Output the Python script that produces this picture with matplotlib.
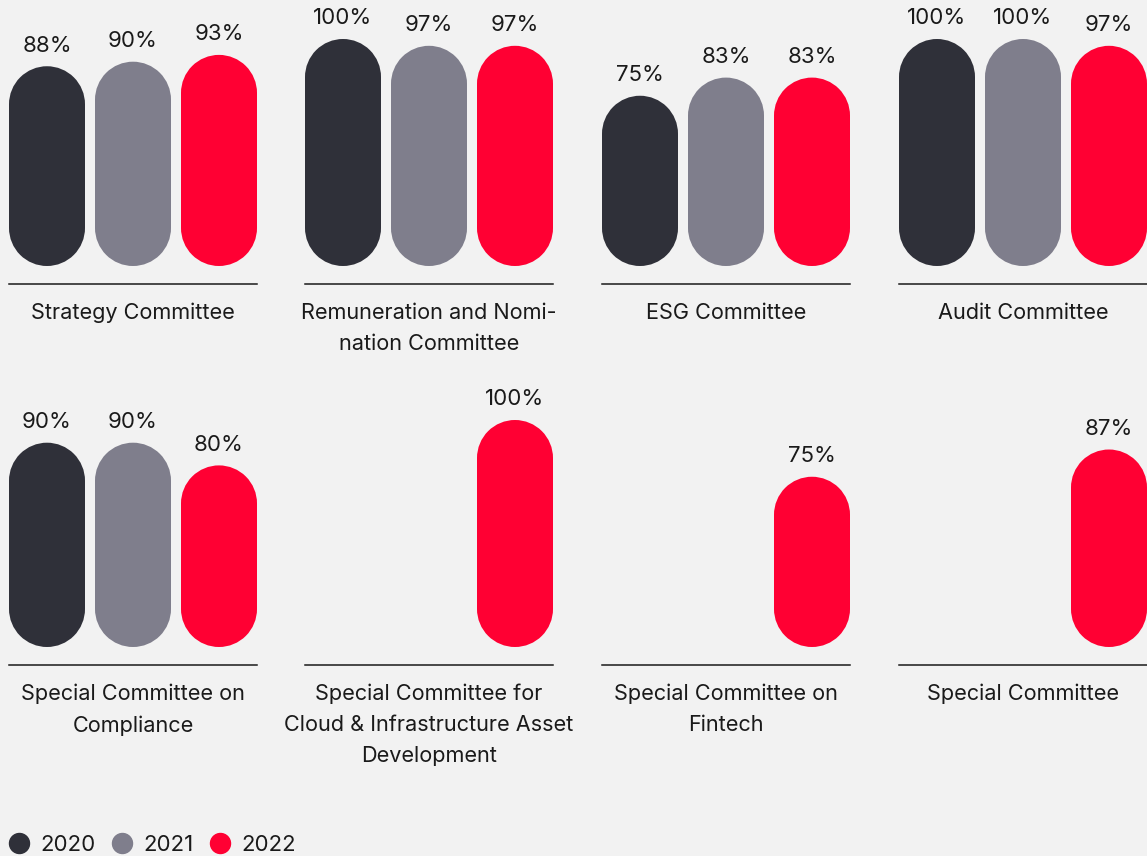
import numpy as np
import matplotlib
matplotlib.use("Agg")
import matplotlib.pyplot as plt
from matplotlib.path import Path
from matplotlib.patches import PathPatch
from matplotlib.lines import Line2D

plt.rcParams['font.family'] = ['Inter', 'DejaVu Sans']

committees = [
    "Strategy Committee",
    "Remuneration and Nomi-\nnation Committee",
    "ESG Committee",
    "Audit Committee",
    "Special Committee on\nCompliance",
    "Special Committee for\nCloud & Infrastructure Asset\nDevelopment",
    "Special Committee on\nFintech",
    "Special Committee",
]
years = ["2020", "2021", "2022"]
att_2020 = [88, 100, 75, 100, 90, np.nan, np.nan, np.nan]
att_2021 = [90, 97, 83, 100, 90, np.nan, np.nan, np.nan]
att_2022 = [93, 97, 83, 97, 80, 100, 75, 87]
colors = ["#2f3039", "#7f7e8c", "#ff0033"]

BG = "#f2f2f2"
INK = "#1a1a1a"
W, H = 1147, 856

fig = plt.figure(figsize=(W / 100, H / 100), dpi=100, facecolor=BG)

panel_left = [9, 305, 602, 899]
row_base = [284, 665]      # pixel row of the baseline rule, from the top
panel_w, panel_h = 248, 245
bw = 76 / 86
ylo = -18 / 2.27


def pill(ax, xc, val, color, aspect):
    rx = bw / 2
    ry = rx * aspect
    top = Path.arc(0, 180)
    bot = Path.arc(180, 360)
    tv = top.vertices * [rx, ry] + [xc, val - ry]
    bv = bot.vertices * [rx, ry] + [xc, ry]
    bcodes = bot.codes.copy()
    bcodes[0] = Path.LINETO
    verts = np.vstack([tv, bv, tv[:1]])
    codes = np.concatenate([top.codes, bcodes, [Path.CLOSEPOLY]])
    ax.add_patch(PathPatch(Path(verts, codes), facecolor=color,
                           edgecolor="none"))


series = [att_2020, att_2021, att_2022]
for i, name in enumerate(committees):
    r, c = divmod(i, 4)
    ax = fig.add_axes([panel_left[c] / W, (H - row_base[r]) / H,
                       panel_w / W, panel_h / H])
    ax.set_facecolor(BG)
    ax.set_xlim(-bw / 2, 2 + bw / 2)
    ax.set_ylim(ylo, 100)
    aspect = ((100 - ylo) / panel_h) / ((2 + bw) / panel_w)
    for k, vals in enumerate(series):
        v = vals[i]
        if np.isnan(v):
            continue
        pill(ax, k, v, colors[k], aspect)
        ax.annotate(f"{v:g}%", (k, v), xytext=(0, 10.5), textcoords="offset points",
                    ha="center", va="baseline", fontsize=16, color=INK,
                    annotation_clip=False)
    for s in ["top", "left", "right"]:
        ax.spines[s].set_visible(False)
    ax.spines["bottom"].set_color(INK)
    ax.spines["bottom"].set_linewidth(1.1)
    ax.set_xticks([])
    ax.set_yticks([])
    ax.annotate(name, (0.5, 0), xycoords="axes fraction", xytext=(0, -13.5),
                textcoords="offset points", ha="center", va="top",
                fontsize=15.6, color=INK, linespacing=1.68,
                annotation_clip=False)

handles = [Line2D([], [], marker="o", ls="", color=c, markersize=14.4)
           for c in colors]
fig.legend(handles, years, loc="center left",
           bbox_to_anchor=(9 / W, (H - 845) / H), frameon=False,
           fontsize=16, ncol=3, handlelength=0.9, handletextpad=0.5,
           columnspacing=0.75, borderpad=0, borderaxespad=0,
           labelcolor=INK)

fig.savefig("out.png", dpi=100, facecolor=BG)
